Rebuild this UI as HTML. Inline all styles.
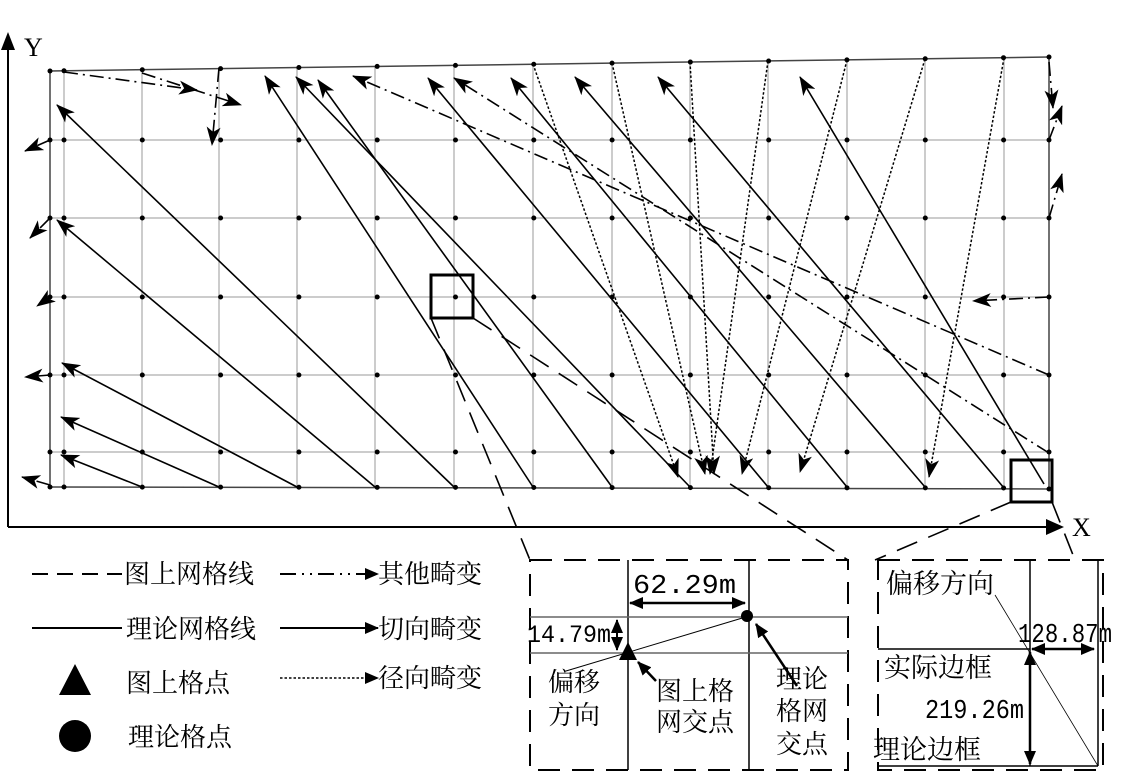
<!DOCTYPE html>
<html><head><meta charset="utf-8"><style>
html,body{margin:0;padding:0;background:#fff;}
svg{display:block;}
text{font-family:"Liberation Serif","Noto Serif CJK SC","Noto Sans CJK SC",serif;fill:#000;}
text.m{font-family:"Liberation Mono","Noto Sans CJK SC",monospace;}
</style></head><body>
<svg width="1123" height="777" viewBox="0 0 1123 777" xmlns="http://www.w3.org/2000/svg">
<defs>
<marker id="a" markerUnits="userSpaceOnUse" markerWidth="20" markerHeight="14" refX="18" refY="7" orient="auto"><path d="M0,0 L19,7 L0,14 L5,7 Z" fill="#000"/></marker>
<marker id="s" markerUnits="userSpaceOnUse" markerWidth="14" markerHeight="12" refX="13" refY="6" orient="auto-start-reverse"><path d="M0,0 L14,6 L0,12 Z" fill="#000"/></marker>
</defs>
<line x1="8" y1="527" x2="8" y2="48" stroke="#000" stroke-width="2"/>
<path d="M1,50 L8,32 L15,50 Z"/>
<line x1="8" y1="527" x2="1048" y2="527" stroke="#000" stroke-width="2"/>
<path d="M1046,519 L1064,527 L1046,535 Z"/>
<text x="24" y="56" font-size="26">Y</text>
<text x="1072" y="536" font-size="26">X</text>
<g stroke="#bbb" stroke-width="1.5">
<line x1="50" y1="140" x2="1049" y2="140"/><line x1="50" y1="218" x2="1049" y2="218"/>
<line x1="50" y1="297" x2="1049" y2="297"/><line x1="50" y1="375" x2="1049" y2="375"/>
<line x1="50" y1="452" x2="1049" y2="452"/>
<line x1="64" y1="71" x2="64" y2="487"/><line x1="142" y1="70" x2="142" y2="487"/><line x1="219" y1="69" x2="219" y2="487"/>
<line x1="297" y1="68" x2="297" y2="487"/><line x1="375" y1="66" x2="375" y2="487"/><line x1="454" y1="65" x2="454" y2="487"/>
<line x1="533" y1="64" x2="533" y2="488"/><line x1="612" y1="63" x2="612" y2="488"/><line x1="690" y1="62" x2="690" y2="488"/>
<line x1="768" y1="61" x2="768" y2="488"/><line x1="847" y1="60" x2="847" y2="488"/><line x1="925" y1="59" x2="925" y2="488"/>
<line x1="1004" y1="58" x2="1004" y2="488"/>
</g>
<g stroke="#444" stroke-width="1.5" fill="none">
<line x1="50" y1="71" x2="1049" y2="57"/>
<line x1="50" y1="487" x2="1049" y2="489"/>
<line x1="50" y1="71" x2="50" y2="487"/>
<line x1="1049" y1="57" x2="1049" y2="489"/>
</g>
<g stroke="#000" stroke-width="5" stroke-linecap="round" stroke-dasharray="0 78.3">
<line x1="64" y1="140" x2="1010" y2="140"/><line x1="64" y1="218" x2="1010" y2="218"/>
<line x1="64" y1="297" x2="1010" y2="297"/><line x1="64" y1="375" x2="1010" y2="375"/>
<line x1="64" y1="452" x2="1010" y2="452"/><line x1="64" y1="487" x2="1010" y2="488"/>
<line x1="64" y1="70.8" x2="1010" y2="57.6"/>
</g>
<g fill="#000">
<circle cx="50" cy="71" r="2.5"/><circle cx="50" cy="140" r="2.5"/><circle cx="50" cy="218" r="2.5"/><circle cx="50" cy="297" r="2.5"/><circle cx="50" cy="375" r="2.5"/><circle cx="50" cy="452" r="2.5"/><circle cx="50" cy="487" r="2.5"/>
<circle cx="1049" cy="57" r="2.5"/><circle cx="1049" cy="140" r="2.5"/><circle cx="1049" cy="218" r="2.5"/><circle cx="1049" cy="297" r="2.5"/><circle cx="1049" cy="375" r="2.5"/><circle cx="1049" cy="452" r="2.5"/><circle cx="1049" cy="489" r="2.5"/>
</g>
<g stroke="#000" stroke-width="1.6" marker-end="url(#a)">
<line x1="142" y1="487" x2="61" y2="455"/>
<line x1="219" y1="487" x2="61" y2="417"/>
<line x1="297" y1="487" x2="62" y2="363"/>
<line x1="375" y1="487" x2="57" y2="220"/>
<line x1="454" y1="487" x2="57" y2="105"/>
<line x1="533" y1="487" x2="265" y2="76"/>
<line x1="612" y1="487" x2="318" y2="80"/>
<line x1="690" y1="487" x2="296" y2="77"/>
<line x1="768" y1="487" x2="428" y2="78"/>
<line x1="847" y1="487" x2="511" y2="78"/>
<line x1="925" y1="487" x2="575" y2="77"/>
<line x1="1004" y1="488" x2="658" y2="77"/>
<line x1="1044" y1="484" x2="800" y2="77"/>
</g>
<g stroke="#000" stroke-width="1.5" stroke-dasharray="2.5 2" marker-end="url(#a)">
<line x1="533" y1="64" x2="678" y2="477"/>
<line x1="612" y1="63" x2="705" y2="474"/>
<line x1="690" y1="62" x2="714" y2="474"/>
<line x1="768" y1="61" x2="710" y2="474"/>
<line x1="847" y1="60" x2="742" y2="474"/>
<line x1="925" y1="59" x2="800" y2="472"/>
<line x1="1004" y1="58" x2="929" y2="477"/>
</g>
<g stroke="#000" stroke-width="1.6" stroke-dasharray="14 5 2 5" marker-end="url(#a)">
<line x1="64" y1="72" x2="197" y2="90"/>
<line x1="142" y1="73" x2="241" y2="105"/>
<line x1="219" y1="68" x2="212" y2="145"/>
<line x1="1049" y1="375" x2="353" y2="76"/>
<line x1="1049" y1="453" x2="454" y2="78"/>
<line x1="1049" y1="62" x2="1053" y2="108"/>
<line x1="1049" y1="140" x2="1062" y2="106"/>
<line x1="1049" y1="218" x2="1062" y2="174"/>
<line x1="1049" y1="297" x2="973" y2="301"/>
<line x1="50" y1="140" x2="25" y2="151"/>
<line x1="50" y1="218" x2="30" y2="238"/>
<line x1="50" y1="297" x2="37" y2="306"/>
<line x1="50" y1="375" x2="25" y2="377"/>
<line x1="50" y1="485" x2="22" y2="477"/>
</g>
<rect x="431" y="275" width="42" height="43" fill="none" stroke="#000" stroke-width="3"/>
<rect x="1011" y="460" width="41" height="42" fill="none" stroke="#000" stroke-width="3"/>
<g stroke="#000" stroke-width="1.6" stroke-dasharray="22 12" fill="none">
<line x1="473" y1="318" x2="848" y2="560"/>
<line x1="431" y1="318" x2="530" y2="560"/>
<line x1="1011" y1="502" x2="875" y2="560"/>
<line x1="1052" y1="502" x2="1075" y2="560"/>
</g>
<g stroke="#000" stroke-width="2">
<line x1="32" y1="574" x2="122" y2="574" stroke-dasharray="16 9"/>
<line x1="280" y1="574" x2="378" y2="574" stroke-dasharray="16 6 2 6 2 6" marker-end="url(#s)"/>
<line x1="32" y1="628" x2="122" y2="628"/>
<line x1="280" y1="628" x2="378" y2="628" marker-end="url(#s)"/>
<line x1="280" y1="678" x2="378" y2="678" stroke-width="1.6" stroke-dasharray="2.5 2" marker-end="url(#s)"/>
</g>
<path d="M59,695 L75,664 L91,695 Z"/>
<circle cx="75" cy="736" r="16"/>
<g font-size="26">
<text x="124" y="583">图上网格线</text>
<text x="378" y="583">其他畸变</text>
<text x="126" y="638">理论网格线</text>
<text x="378" y="638">切向畸变</text>
<text x="126" y="692">图上格点</text>
<text x="378" y="687">径向畸变</text>
<text x="128" y="746">理论格点</text>
</g>
<rect x="530" y="560" width="318" height="210" fill="none" stroke="#000" stroke-width="2" stroke-dasharray="22 12"/>
<g stroke="#000" stroke-width="1.5" fill="none">
<line x1="628" y1="560" x2="628" y2="770"/>
<line x1="749" y1="560" x2="749" y2="770"/>
<line x1="530" y1="617" x2="848" y2="617" stroke="#666"/>
<line x1="530" y1="653" x2="848" y2="653" stroke="#666"/>
<line x1="749" y1="616" x2="566" y2="671" stroke-width="1"/>
</g>
<circle cx="747" cy="616" r="6"/>
<path d="M619,660 L628,642 L637,660 Z"/>
<g stroke="#000" stroke-width="2.5">
<line x1="630" y1="603" x2="745" y2="603" marker-end="url(#s)" marker-start="url(#s)"/>
<line x1="617" y1="620" x2="617" y2="650" marker-end="url(#s)" marker-start="url(#s)" stroke-width="2"/>
<line x1="656" y1="681" x2="638" y2="662" marker-end="url(#s)"/>
<line x1="797" y1="686" x2="756" y2="624" marker-end="url(#s)"/>
</g>
<text class="m" x="633" y="593" font-size="27" textLength="103" lengthAdjust="spacingAndGlyphs">62.29m</text>
<text class="m" x="527" y="642" font-size="25" textLength="84" lengthAdjust="spacingAndGlyphs">14.79m</text>
<g font-size="26">
<text x="548" y="691">偏移</text>
<text x="548" y="724">方向</text>
<text x="656" y="700">图上格</text>
<text x="656" y="731">网交点</text>
<text x="776" y="688">理论</text>
<text x="776" y="720">格网</text>
<text x="776" y="753">交点</text>
</g>
<rect x="878" y="560" width="225" height="210" fill="none" stroke="#000" stroke-width="2" stroke-dasharray="22 12"/>
<g stroke="#000" stroke-width="1.5" fill="none">
<line x1="1030" y1="560" x2="1030" y2="766"/>
<line x1="878" y1="649" x2="1030" y2="649"/>
<line x1="1098" y1="560" x2="1098" y2="766"/>
<line x1="878" y1="766" x2="1098" y2="766"/>
<line x1="995" y1="595" x2="1098" y2="766" stroke-width="0.8"/>
</g>
<g stroke="#000" stroke-width="2.5">
<line x1="1032" y1="649" x2="1094" y2="649" marker-end="url(#s)" marker-start="url(#s)"/>
<line x1="1030" y1="652" x2="1030" y2="764" marker-end="url(#s)" marker-start="url(#s)"/>
</g>
<g font-size="27">
<text x="886" y="593">偏移方向</text>
<text x="884" y="677">实际边框</text>
<text x="873" y="759">理论边框</text>
</g>
<text class="m" x="1018" y="642" font-size="27" textLength="94" lengthAdjust="spacingAndGlyphs">128.87m</text>
<text class="m" x="925" y="718" font-size="27" textLength="99" lengthAdjust="spacingAndGlyphs">219.26m</text>
</svg>
</body></html>
